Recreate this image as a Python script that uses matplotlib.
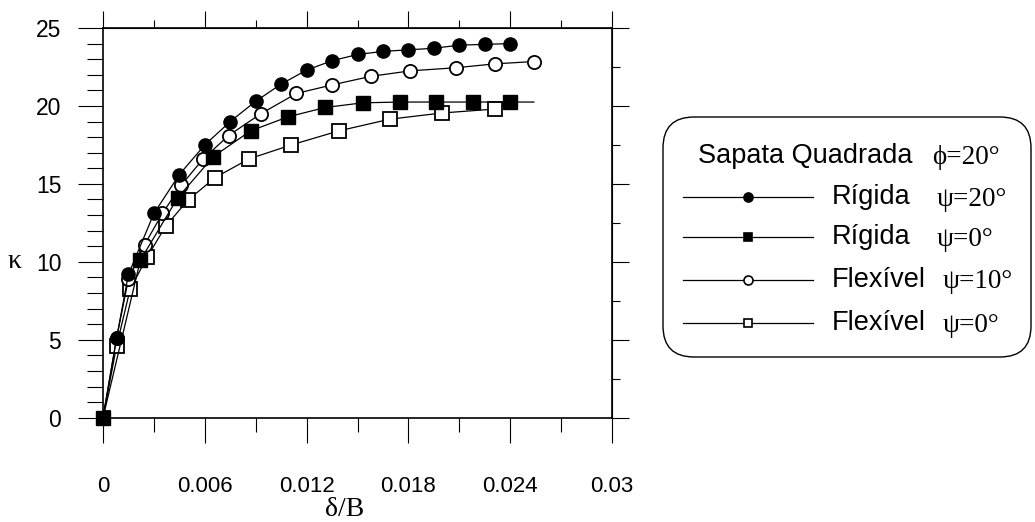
import numpy as np
import matplotlib.pyplot as plt
from matplotlib.lines import Line2D
from matplotlib.patches import FancyBboxPatch

# data (delta/B , kappa)
rig20_x = [0, 0.0008, 0.0015, 0.003, 0.0045, 0.006, 0.0075, 0.009, 0.0105, 0.012,
           0.0135, 0.015, 0.0165, 0.018, 0.0195, 0.021, 0.0225, 0.024]
rig20_y = [0, 5.1, 9.2, 13.1, 15.6, 17.5, 19.0, 20.3, 21.4, 22.3,
           22.9, 23.3, 23.5, 23.6, 23.7, 23.9, 23.95, 24.0]

rig0_x = [0, 0.0022, 0.0044, 0.0065, 0.0087, 0.0109, 0.0131, 0.0153, 0.0175,
          0.0196, 0.0218, 0.024, 0.0254]
rig0_y = [0, 10.1, 14.1, 16.75, 18.4, 19.3, 19.9, 20.2, 20.25,
          20.25, 20.25, 20.25, 20.25]

flex10_x = [0, 0.0008, 0.0015, 0.00245, 0.0035, 0.0046, 0.0059, 0.0074, 0.0093,
            0.0114, 0.0135, 0.0158, 0.0181, 0.0208, 0.0231, 0.0254]
flex10_y = [0, 5.1, 8.9, 11.1, 13.1, 14.9, 16.6, 18.1, 19.5,
            20.8, 21.35, 21.9, 22.25, 22.45, 22.7, 22.85]

flex0_x = [0, 0.0008, 0.0016, 0.0026, 0.0037, 0.005, 0.0066, 0.0086, 0.0111,
           0.0139, 0.0169, 0.02, 0.0231]
flex0_y = [0, 4.6, 8.25, 10.3, 12.3, 13.95, 15.4, 16.6, 17.5,
           18.4, 19.15, 19.55, 19.8]

xticks = [0, 0.006, 0.012, 0.018, 0.024, 0.03]
xlabels = ['0', '0.006', '0.012', '0.018', '0.024', '0.03']
yticks = [0, 5, 10, 15, 20, 25]

sans = 'Liberation Sans'
serif = 'Liberation Serif'
W, H = 1035, 522

def fp(x, y):
    # pixel -> figure fraction
    return x / W, 1 - y / H

fig = plt.figure(figsize=(W / 100, H / 100), dpi=100)
ax = fig.add_axes([103 / W, 1 - 417.7 / H, (612 - 103) / W, (417.7 - 28) / H])

ms = 9.5
ax.plot(flex0_x, flex0_y, color='k', lw=0.9, marker='s', ms=ms, mfc='white',
        mec='k', mew=1.3, zorder=3)
ax.plot(flex10_x, flex10_y, color='k', lw=0.9, marker='o', ms=ms, mfc='white',
        mec='k', mew=1.3, zorder=4)
ax.plot(rig20_x, rig20_y, color='k', lw=0.9, marker='o', ms=ms, mfc='k',
        mec='k', zorder=5)
ax.plot(rig0_x, rig0_y, color='k', lw=0.9, marker='s', ms=ms, mfc='k',
        mec='k', markevery=list(range(len(rig0_x) - 1)), zorder=6, clip_on=False)

ax.set_xlim(0, 0.03)
ax.set_ylim(0, 25)
for s in ax.spines.values():
    s.set_linewidth(1.2)

ax.set_xticks(xticks)
ax.set_xticklabels(xlabels, fontfamily=sans, fontsize=16)
ax.set_xticks(np.arange(0.003, 0.03, 0.006), minor=True)
ax.set_yticks(yticks)
ax.set_yticklabels([str(v) for v in yticks], fontfamily=sans, fontsize=16.5)
ax.set_yticks([v for v in range(26) if v % 5], minor=True)
ax.tick_params(axis='x', which='major', direction='out', length=18, width=0.8, pad=24)
ax.tick_params(axis='x', which='minor', direction='out', length=10, width=0.8)
ax.tick_params(axis='y', which='major', direction='out', length=18, width=0.8, pad=12)
ax.tick_params(axis='y', which='minor', direction='out', length=11.5, width=0.8)

top = ax.secondary_xaxis('top')
top.set_xticks(xticks)
top.set_xticklabels([])
top.set_xticks(np.arange(0.003, 0.03, 0.006), minor=True)
top.tick_params(which='major', direction='out', length=12, width=0.8)
top.tick_params(which='minor', direction='out', length=6, width=0.8)

right = ax.secondary_yaxis('right')
right.set_yticks(yticks)
right.set_yticklabels([])
right.set_yticks(np.arange(2.5, 25, 5), minor=True)
right.tick_params(which='major', direction='out', length=12, width=0.8)
right.tick_params(which='minor', direction='out', length=6, width=0.8)

fig.text(*fp(345, 509), 'δ/B', fontfamily=serif, fontsize=20, ha='center', va='center')
fig.text(*fp(14, 262), 'κ', fontfamily=serif, fontsize=20, ha='center', va='center')

# legend box
x0, y0 = fp(663, 357)
x1, y1 = fp(1031, 117)
box = FancyBboxPatch((x0, y0), x1 - x0, y1 - y0, transform=fig.transFigure,
                     boxstyle='round,pad=0,rounding_size=0.03',
                     fc='white', ec='k', lw=1.0, mutation_aspect=W / H)
fig.patches.append(box)

fig.text(*fp(698, 156), 'Sapata Quadrada', fontfamily=sans, fontsize=19.5,
         ha='left', va='center')
fig.text(*fp(932, 158), 'ϕ=20°', fontfamily=serif, fontsize=19.5,
         ha='left', va='center')

leg_rows = [
    ('o', 'k', 'Rígida', 'ψ=20°', 937, 197),
    ('s', 'k', 'Rígida', 'ψ=0°', 937, 237),
    ('o', 'white', 'Flexível', 'ψ=10°', 943, 280),
    ('s', 'white', 'Flexível', 'ψ=0°', 943, 323),
]
for mk, fc, lab, psi, xpsi, yy in leg_rows:
    xa, ya = fp(683, yy)
    xb, _ = fp(813, yy)
    fig.add_artist(Line2D([xa, xb], [ya, ya], transform=fig.transFigure,
                          color='k', lw=0.9))
    xm, _ = fp(748, yy)
    fig.add_artist(Line2D([xm], [ya], transform=fig.transFigure, marker=mk,
                          ms=6.5 if mk == 'o' else 6, mfc=fc, mec='k', mew=1.2,
                          ls='none'))
    fig.text(*fp(832, yy), lab, fontfamily=sans, fontsize=19.5, ha='left', va='center')
    fig.text(*fp(xpsi, yy + 2), psi, fontfamily=serif, fontsize=19.5, ha='left', va='center')

fig.savefig('out.png', dpi=100)
